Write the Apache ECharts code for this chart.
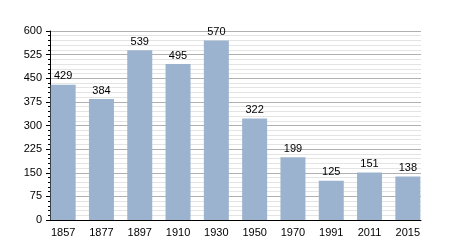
<!DOCTYPE html>
<html><head><meta charset="utf-8">
<script src="https://cdn.jsdelivr.net/npm/echarts@6/dist/echarts.min.js"></script>
<style>html,body{margin:0;padding:0;background:#fff}#c{width:450px;height:250px}</style>
</head><body><div id="c"></div>
<script>
const categories = ['1857','1877','1897','1910','1930','1950','1970','1991','2011','2015'];
const values = [429,384,539,495,570,322,199,125,151,138];
const font = 'Liberation Sans, Arial, sans-serif';
const chart = echarts.init(document.getElementById('c'), null, {renderer:'canvas'});
chart.setOption({
  animation:false,
  grid:[
    {left:50,right:29,top:31,bottom:30},
    {left:44,right:23,top:31,bottom:30}
  ],
  xAxis:[
    {type:'category',gridIndex:0,data:categories,
      axisLine:{lineStyle:{color:'#000',width:1}},
      axisTick:{show:false},axisLabel:{show:false},splitLine:{show:false}},
    {type:'category',gridIndex:1,data:categories,
      axisLine:{show:false},axisTick:{show:false},
      axisLabel:{color:'#000',fontFamily:font,fontSize:11,margin:7}}
  ],
  yAxis:[
    {type:'value',gridIndex:0,min:0,max:600,interval:75,
      axisLine:{show:true,lineStyle:{color:'#000'}},
      axisTick:{show:true,length:4,lineStyle:{color:'#000'}},
      minorTick:{show:true,splitNumber:5,length:2,lineStyle:{color:'#000'}},
      splitLine:{lineStyle:{color:'#b0b0b0'}},
      minorSplitLine:{show:true,lineStyle:{color:'#e4e4e4'}},
      axisLabel:{color:'#000',fontFamily:font,fontSize:11,margin:8}},
    {type:'value',gridIndex:1,min:0,max:600,interval:75,show:false,
      splitLine:{show:false}}
  ],
  series:[{type:'bar',xAxisIndex:1,yAxisIndex:1,data:values,barWidth:25,
    itemStyle:{color:'#9bb3cf'},
    label:{show:true,position:'top',color:'#000',fontFamily:font,fontSize:11,distance:3}}]
});
</script></body></html>
